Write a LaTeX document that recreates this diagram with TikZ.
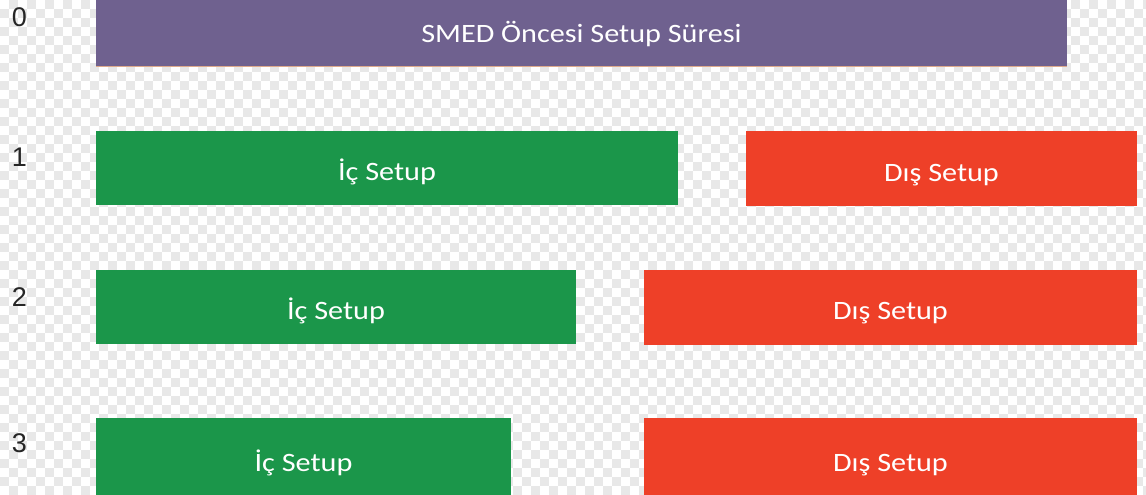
\documentclass[tikz,border=0pt]{standalone}
\usepackage{fontspec}
\setmainfont{Carlito}
\newfontfamily\barfont[FakeStretch=1.14]{Carlito}
\newfontfamily\digitfont{Liberation Sans}
\begin{document}
\begin{tikzpicture}[x=1pt,y=-1pt,
  bar/.style={inner sep=0pt, outer sep=0pt, text=white,
    text height=25pt, text depth=0pt,
    font=\barfont\fontsize{26.5}{30}\selectfont},
  purplebar/.style={bar, fill=barpurple, text height=18.5pt},
  greenbar/.style={bar, fill=bargreen},
  redbar/.style={bar, fill=barred},
  rowno/.style={inner sep=0pt, text=black!85, font=\digitfont\fontsize{27}{30}\selectfont}]
\definecolor{barpurple}{RGB}{111,97,143}
\definecolor{bargreen}{RGB}{27,150,74}
\definecolor{barred}{RGB}{238,64,40}
\definecolor{checkgray}{RGB}{232,232,232}
\useasboundingbox (0,0) rectangle (1146,495);
% checkered backdrop
\fill[white] (0,0) rectangle (1146,495);
\foreach \i in {0,...,127}{
  \foreach \j in {0,...,54}{
    \pgfmathparse{int(mod(\i+\j,2))}
    \ifnum\pgfmathresult=1
      \fill[checkgray] (\i*9,\j*9) rectangle ++(9,9);
    \fi
  }
}
\begin{scope}
\clip (0,0) rectangle (1146,495);
% row 0
\node[purplebar, minimum width=971pt, minimum height=67pt] (smed) at (581.5,33.5) {SMED Öncesi Setup Süresi};
\draw[draw={rgb,255:red,222;green,170;blue,140}, line width=1pt] (smed.south west) -- (smed.south east);
% row 1
\node[greenbar, minimum width=582pt, minimum height=74pt] (ic1) at (387,168) {İç Setup};
\node[redbar, minimum width=391pt, minimum height=75pt] (dis1) at (941.5,168.5) {Dış Setup};
% row 2
\node[greenbar, minimum width=480pt, minimum height=74pt] (ic2) at (336,306.5) {İç Setup};
\node[redbar, minimum width=493pt, minimum height=75pt] (dis2) at (890.5,307) {Dış Setup};
% row 3
\node[greenbar, minimum width=415pt, minimum height=82pt] (ic3) at (303.5,459) {İç Setup};
\node[redbar, minimum width=493pt, minimum height=82pt] (dis3) at (890.5,459) {Dış Setup};
\end{scope}
% row numbers
\node[rowno] (n0) at (19.5,17.5) {0};
\node[rowno] (n1) at (19.5,157.5) {1};
\node[rowno] (n2) at (19.5,297) {2};
\node[rowno] (n3) at (19.5,443) {3};
\end{tikzpicture}
\end{document}
